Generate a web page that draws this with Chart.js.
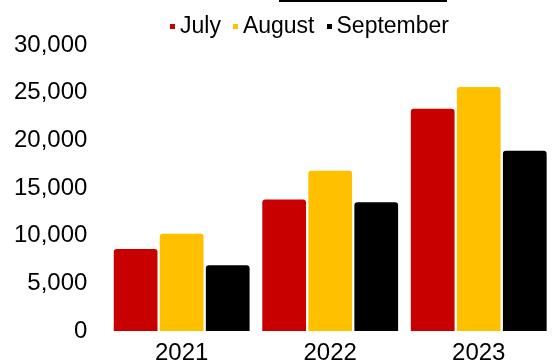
<!DOCTYPE html>
<html>
<head>
<meta charset="utf-8">
<script src="https://cdn.jsdelivr.net/npm/chart.js@4"></script>
<style>
  body { margin: 0; background: #fff; }
  #wrap { position: relative; width: 554px; height: 363px; }
  #topLine { position: absolute; left: 279px; top: 0; width: 168px; height: 2px; background: #000; }
  #legend { position: absolute; left: 170px; top: 12px; font: 23px 'Liberation Sans', Arial, sans-serif; color: #000; white-space: nowrap; }
  #legend span.item { display: inline-block; margin-right: 12px; }
  #legend span.box { display: inline-block; width: 5px; height: 5px; margin-right: 5px; vertical-align: 4px; }
</style>
</head>
<body>
<div id="wrap">
  <div id="topLine"></div>
  <div id="legend"></div>
  <canvas id="chart" width="554" height="363"></canvas>
</div>
<script>
// Years on the x axis
let years = ['2021', '2022', '2023'];

// Values per month
let july = [8600, 13800, 23300];
let august = [10200, 16800, 25600];
let september = [6900, 13500, 18900];

let monthNames = ['July', 'August', 'September'];
let monthColors = ['#C80000', '#FFC000', '#000000'];

let ctx = document.getElementById('chart').getContext('2d');
let chart = new Chart(ctx, {
    type: 'bar',
    data: {
        labels: years,
        datasets: [
            { label: monthNames[0], data: july, backgroundColor: monthColors[0] },
            { label: monthNames[1], data: august, backgroundColor: monthColors[1] },
            { label: monthNames[2], data: september, backgroundColor: monthColors[2] }
        ]
    },
    options: {
        responsive: false,
        animation: false,
        layout: { padding: { top: 45, left: -6, right: 1, bottom: -12 } },
        datasets: {
            bar: {
                categoryPercentage: 0.93,
                barPercentage: 0.95,
                borderRadius: 3,
                borderWidth: 0
            }
        },
        plugins: {
            legend: { display: false },
            tooltip: { enabled: false }
        },
        scales: {
            x: {
                grid: { display: false, drawTicks: false },
                border: { display: false },
                ticks: {
                    color: '#000',
                    padding: 10,
                    font: { family: "'Liberation Sans', Arial, sans-serif", size: 24, lineHeight: 1.0 }
                }
            },
            y: {
                min: 0,
                max: 30000,
                grid: { display: false, drawTicks: false },
                border: { display: false },
                ticks: {
                    stepSize: 5000,
                    color: '#000',
                    padding: 20,
                    font: { family: "'Liberation Sans', Arial, sans-serif", size: 24, lineHeight: 0.5 }
                }
            }
        }
    }
});

// legend built from the datasets
let legendEl = document.getElementById('legend');
chart.data.datasets.forEach(function (ds) {
    let item = document.createElement('span');
    item.className = 'item';
    let box = document.createElement('span');
    box.className = 'box';
    box.style.background = ds.backgroundColor;
    item.appendChild(box);
    item.appendChild(document.createTextNode(ds.label));
    legendEl.appendChild(item);
});
</script>
</body>
</html>
